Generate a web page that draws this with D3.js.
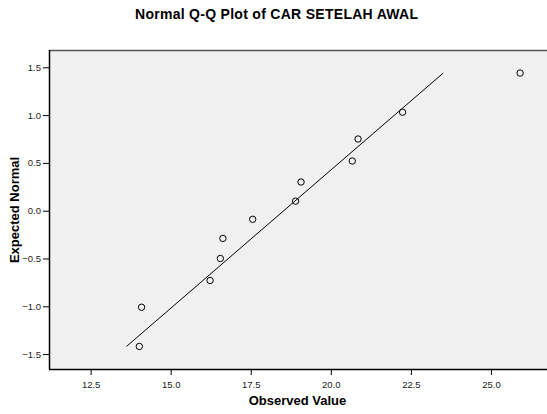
<!DOCTYPE html>
<html><head><meta charset="utf-8">
<script src="https://cdn.jsdelivr.net/npm/d3@7"></script>
<style>body{margin:0;background:#fff}svg{display:block}text{font-family:"Liberation Sans",Arial,sans-serif}</style>
</head><body><svg id="c" width="547" height="414"></svg>
<script>
const observed = [14.02, 14.09, 16.23, 16.55, 16.63, 17.56, 18.90, 19.07, 20.67, 20.85, 22.24, 25.91];
const expected = [-1.42, -1.01, -0.73, -0.50, -0.29, -0.09, 0.10, 0.30, 0.52, 0.75, 1.03, 1.44];
const lineObs = [13.62, 23.51];
const lineExp = [-1.42, 1.44];
const xTicks = [12.5, 15.0, 17.5, 20.0, 22.5, 25.0];
const yTicks = [-1.5, -1.0, -0.5, 0.0, 0.5, 1.0, 1.5];

const svg = d3.select("#c");
const L = 49, R = 547, T = 50, B = 369;
const x = d3.scaleLinear().domain([11.2, 26.75]).range([L, R]);
const y = d3.scaleLinear().domain([-1.656, 1.681]).range([B, T]);

svg.append("rect").attr("x", L).attr("y", T).attr("width", R - L).attr("height", B - T).attr("fill", "#f0f0f0");
svg.append("line").attr("x1", L).attr("x2", R).attr("y1", T + 0.5).attr("y2", T + 0.5).attr("stroke", "#555").attr("stroke-width", 1.5);

const xa = svg.append("g").attr("transform", `translate(0,${B})`)
  .call(d3.axisBottom(x).tickValues(xTicks).tickFormat(d3.format(".1f")).tickSize(6).tickPadding(6));
const ya = svg.append("g").attr("transform", `translate(${L},0)`)
  .call(d3.axisLeft(y).tickValues(yTicks).tickFormat(d3.format(".1f")).tickSize(6).tickPadding(2));
[xa, ya].forEach(a => {
  a.select(".domain").attr("stroke", "#000").attr("stroke-width", 1.5);
  a.selectAll(".tick line").attr("stroke", "#000");
  a.selectAll(".tick text").attr("font-size", 9.5).attr("fill", "#222").attr("font-family", "Liberation Sans, Arial, sans-serif");
});
xa.select(".domain").attr("d", `M${L},0.5H${R}`);
ya.select(".domain").attr("d", `M0.5,${T}V${B}`);

svg.append("line")
  .attr("x1", x(lineObs[0])).attr("y1", y(lineExp[0]))
  .attr("x2", x(lineObs[1])).attr("y2", y(lineExp[1]))
  .attr("stroke", "#000").attr("stroke-width", 1);

svg.append("g").selectAll("circle").data(observed).join("circle")
  .attr("cx", (d) => x(d)).attr("cy", (d, i) => y(expected[i]))
  .attr("r", 3.2).attr("fill", "none").attr("stroke", "#000").attr("stroke-width", 1);

svg.append("text").attr("x", 276.5).attr("y", 18.5).attr("text-anchor", "middle")
  .attr("font-size", 14).attr("font-weight", "bold")
  .attr("textLength", 283).attr("lengthAdjust", "spacing")
  .text("Normal Q-Q Plot of CAR SETELAH AWAL");
svg.append("text").attr("x", 297.5).attr("y", 405).attr("text-anchor", "middle")
  .attr("font-size", 13).attr("font-weight", "bold").text("Observed Value");
svg.append("text").attr("transform", "translate(19,210) rotate(-90)").attr("text-anchor", "middle")
  .attr("font-size", 13).attr("font-weight", "bold").text("Expected Normal");
</script></body></html>
